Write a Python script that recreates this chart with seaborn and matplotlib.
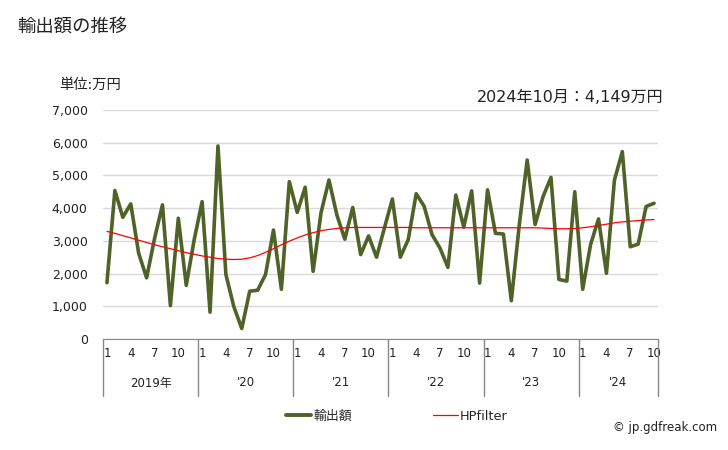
import numpy as np
import pandas as pd
import matplotlib
matplotlib.use("Agg")
import matplotlib.pyplot as plt
import matplotlib.transforms as mtransforms
from matplotlib.lines import Line2D
import seaborn as sns

years = ["2019年", "'20", "'21", "'22", "'23", "'24"]
month_ticks = ["1", "4", "7", "10"]

exports = [
    1720, 4540, 3720, 4130, 2620, 1870, 3070, 4100, 1020, 3690, 1640, 3030,
    4200, 820, 5900, 1970, 990, 320, 1460, 1490, 1970, 3330, 1520, 4810,
    3870, 4640, 2070, 3860, 4860, 3790, 3050, 4020, 2580, 3150, 2500, 3400,
    4280, 2500, 3040, 4440, 4060, 3190, 2780, 2190, 4400, 3420, 4530, 1710,
    4560, 3230, 3210, 1170, 3480, 5470, 3500, 4350, 4940, 1820, 1770, 4500,
    1520, 2890, 3670, 2010, 4850, 5730, 2820, 2900, 4050, 4149,
]
hpfilter = [
    3290, 3230, 3160, 3090, 3020, 2950, 2880, 2820, 2760, 2700, 2640, 2590,
    2540, 2500, 2460, 2440, 2430, 2440, 2480, 2550, 2650, 2760, 2880, 2990,
    3090, 3180, 3250, 3310, 3350, 3380, 3400, 3410, 3410, 3410, 3410, 3410,
    3410, 3410, 3410, 3400, 3400, 3400, 3400, 3400, 3400, 3400, 3400, 3400,
    3400, 3400, 3400, 3400, 3400, 3400, 3400, 3390, 3380, 3370, 3370, 3380,
    3400, 3430, 3470, 3510, 3550, 3580, 3600, 3620, 3640, 3650,
]
yticks = [0, 1000, 2000, 3000, 4000, 5000, 6000, 7000]

sns.set_style("white")
plt.rcParams["font.family"] = ["DejaVu Sans", "Noto Sans CJK JP"]

n = len(exports)
df = pd.DataFrame({"idx": np.arange(n), "exports": exports, "hp": hpfilter})

fig = plt.figure(figsize=(7.28, 4.5), dpi=100)
ax = fig.add_axes([103 / 728, 1 - 339 / 450, 555 / 728, 229 / 450])

green = "#4f6228"
sns.lineplot(data=df, x="idx", y="exports", ax=ax, color=green, lw=2.6, zorder=3)
sns.lineplot(data=df, x="idx", y="hp", ax=ax, color="#ff0000", lw=0.9, zorder=4)

ax.set_xlim(-0.5, n - 0.5)
ax.set_ylim(0, 7000)
ax.set_yticks(yticks)
ax.set_yticklabels([f"{v:,}" for v in yticks], fontsize=9, color="#222222")
ax.yaxis.grid(True, color="#d9d9d9", lw=1)
ax.xaxis.grid(False)
ax.set_xlabel("")
ax.set_ylabel("")
for s in ["left", "right", "top"]:
    ax.spines[s].set_visible(False)
ax.spines["bottom"].set_color("#888888")
ax.tick_params(axis="y", length=0, pad=11)

# month ticks
xt = []
xl = []
for yi in range(len(years)):
    for k, m in enumerate(month_ticks):
        i = yi * 12 + k * 3
        if i < n:
            xt.append(i)
            xl.append(m)
ax.set_xticks(xt)
ax.set_xticklabels(xl, fontsize=8.5, color="#222222")
ax.tick_params(axis="x", length=0, pad=6)

trans = mtransforms.blended_transform_factory(ax.transData, ax.transAxes)
bottom_frac = -(396 - 339) / 229
for yi, ylab in enumerate(years):
    x0 = yi * 12 - 0.5
    ax.plot([x0, x0], [0, bottom_frac], transform=trans, color="#888888",
            lw=1, clip_on=False)
    x1 = min(yi * 12 + 11.5, n - 0.5)
    ax.text((x0 + x1) / 2, -(383 - 339) / 229, ylab, transform=trans,
            ha="center", va="center", fontsize=8.5, color="#222222")
ax.plot([n - 0.5, n - 0.5], [0, bottom_frac], transform=trans, color="#888888",
        lw=1, clip_on=False)

fig.text(17 / 728, 1 - 27 / 450, "輸出額の推移", fontsize=13.2, ha="left",
         va="center", color="#222222")
fig.text(59 / 728, 1 - 85 / 450, "単位:万円", fontsize=10.3, ha="left",
         va="center", color="#222222")
fig.text(663 / 728, 1 - 97 / 450, "2024年10月：4,149万円", fontsize=11.5,
         ha="right", va="center", color="#222222")
fig.text(717 / 728, 1 - 427 / 450, "© jp.gdfreak.com", fontsize=8.5,
         ha="right", va="center", color="#222222")

handles = [Line2D([], [], color=green, lw=2.8), Line2D([], [], color="#ff0000", lw=0.9)]
fig.legend(handles, ["輸出額", "HPfilter"], loc="center",
           bbox_to_anchor=(397 / 728, 1 - 416 / 450), ncol=2, frameon=False,
           fontsize=9.3, handlelength=1.9, handletextpad=0.2, columnspacing=6.3)

fig.savefig("out.png", dpi=100)
